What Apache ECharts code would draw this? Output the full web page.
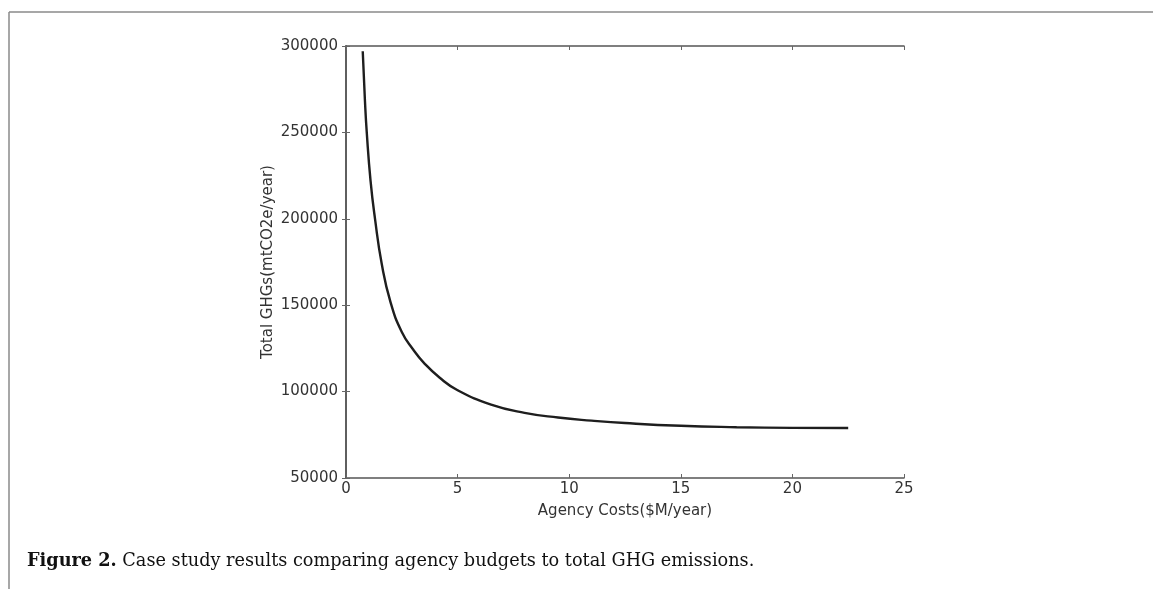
<!DOCTYPE html>
<html><head><meta charset="utf-8">
<script src="https://cdn.jsdelivr.net/npm/echarts@6/dist/echarts.min.js"></script>
<style>html,body{margin:0;padding:0;background:#fff}#c{width:1153px;height:589px}</style>
</head><body><div id="c"></div>
<script>
const costs = [0.75, 0.85, 0.93, 1.1, 1.3, 1.6, 2.0, 2.5, 3.0, 3.5, 4.2, 5.0, 6.5, 8.0, 9.5, 11, 12.5, 15, 17.5, 20, 22.5];
const ghgs = [297000, 268000, 250000, 222000, 200000, 174000, 151500, 134500, 124500, 116500, 108000, 100800, 92500, 87700, 85000, 83200, 81800, 80200, 79400, 79000, 78900];
const xTicks = [0, 5, 10, 15, 20, 25];
const yTicks = [50000, 100000, 150000, 200000, 250000, 300000];
const xName = 'Agency Costs($M/year)';
const yName = 'Total GHGs(mtCO2e/year)';
const captionBold = 'Figure 2.';
const captionText = ' Case study results comparing agency budgets to total GHG emissions.';

const chart = echarts.init(document.getElementById('c'), null, {renderer: 'canvas'});
const axisLine = {show: true, lineStyle: {color: '#555', width: 1.5}};
const tick = {show: true, inside: true, length: 4, lineStyle: {color: '#666', width: 1}};
const lbl = {fontFamily: 'DejaVu Sans', fontSize: 15, color: '#333', formatter: v => String(v)};
const nameStyle = {fontFamily: 'DejaVu Sans', fontSize: 15, color: '#333'};
chart.setOption({
  animation: false,
  backgroundColor: '#fff',
  grid: {left: 346, top: 46, right: 249, bottom: 111, containLabel: false},
  xAxis: [{
    type: 'value', min: xTicks[0], max: xTicks[xTicks.length - 1], interval: 5,
    axisLine, axisTick: tick, splitLine: {show: false},
    axisLabel: Object.assign({}, lbl, {margin: 4}),
    name: xName, nameLocation: 'middle', nameGap: 26, nameTextStyle: nameStyle
  }, {
    type: 'value', position: 'top', min: xTicks[0], max: xTicks[xTicks.length - 1], interval: 5,
    axisLine, axisTick: tick, splitLine: {show: false}, axisLabel: {show: false}
  }],
  yAxis: [{
    type: 'value', min: yTicks[0], max: yTicks[yTicks.length - 1], interval: 50000,
    axisLine, axisTick: tick, splitLine: {show: false},
    axisLabel: Object.assign({}, lbl, {margin: 8}),
    name: yName, nameLocation: 'middle', nameGap: 70, nameRotate: 90, nameTextStyle: nameStyle
  }, {
    type: 'value', position: 'right', min: yTicks[0], max: yTicks[yTicks.length - 1], interval: 50000,
    axisLine, axisTick: tick, splitLine: {show: false}, axisLabel: {show: false}
  }],
  series: [{
    type: 'line', smooth: 0.5, showSymbol: false,
    data: costs.map((c, i) => [c, ghgs[i]]),
    lineStyle: {color: '#1e1e1e', width: 2.4}
  }],
  graphic: [
    {type: 'line', shape: {x1: 9, y1: 12, x2: 1153, y2: 12}, style: {stroke: '#8a8a8a', lineWidth: 1.5}},
    {type: 'line', shape: {x1: 9, y1: 12, x2: 9, y2: 589}, style: {stroke: '#8a8a8a', lineWidth: 1.5}},
    {type: 'text', left: 27, top: 552, style: {
      text: '{b|' + captionBold + '}{n|' + captionText + '}',
      rich: {
        b: {fontFamily: 'DejaVu Serif', fontWeight: 'bold', fontSize: 17.7, fill: '#111'},
        n: {fontFamily: 'DejaVu Serif', fontSize: 17.7, fill: '#111'}
      }
    }}
  ]
});
</script></body></html>
